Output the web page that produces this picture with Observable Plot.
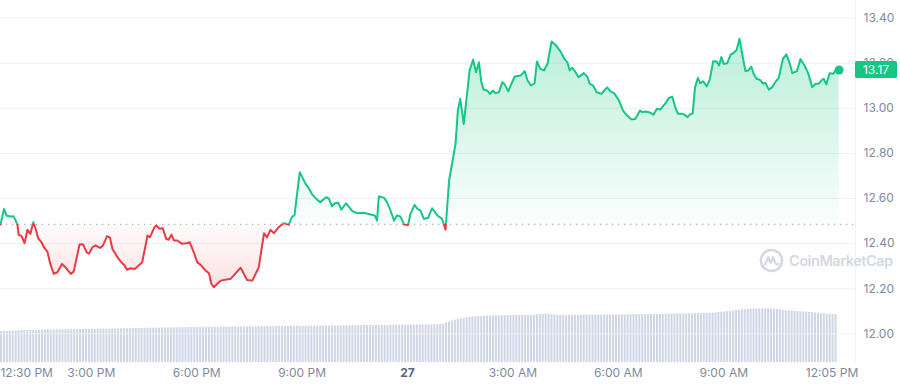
<!DOCTYPE html>
<html><head><meta charset="utf-8">
<script src="https://cdn.jsdelivr.net/npm/d3@7"></script>
<script src="https://cdn.jsdelivr.net/npm/@observablehq/plot@0.6"></script>
<style>
html,body{margin:0;padding:0;background:#fff;}
#wrap{position:relative;width:900px;height:388px;font-family:Inter,"Noto Sans",sans-serif;overflow:hidden;}
#wrap > svg{position:absolute;left:0;top:0;}
#wm{position:absolute;left:759px;top:248px;display:flex;align-items:center;gap:5px;color:#d3d8e1;font-family:Inter,sans-serif;font-weight:600;font-size:14.5px;letter-spacing:-0.45px;white-space:nowrap;}
</style></head><body><div id="wrap"></div>
<script>
// Time in minutes relative to midnight of the 27th; price in USD
const minutes = [
-695,-689,-685,-678,-673,-669,-666,-664,-659,-654,
-649,-644,-639,-635,-631,-625,-621,-615,-610,-604,
-598,-590,-584,-575,-570,-560,-554,-548,-544,-538,
-533,-525,-520,-513,-508,-504,-497,-490,-483,-479,
-473,-466,-459,-453,-444,-440,-432,-429,-423,-418,
-412,-408,-403,-399,-393,-385,-377,-372,-365,-359,
-352,-345,-339,-335,-331,-322,-319,-302,-285,-274,
-265,-254,-245,-240,-234,-228,-220,-212,-207,-203,
-197,-193,-184,-174,-169,-162,-154,-149,-139,-134,
-129,-124,-118,-113,-105,-94,-86,-75,-63,-56,
-52,-49,-40,-35,-29,-23,-18,-12,-6,1,
5,12,17,22,28,35,42,51,59,65,
71,78,82,86,90,96,102,106,112,117,
122,126,130,136,141,146,150,156,162,166,
172,183,193,200,205,211,217,221,227,233,
239,246,254,262,268,273,277,281,287,292,
301,307,311,317,323,331,336,341,347,353,
361,368,375,382,389,397,401,406,414,420,
426,432,441,446,452,458,462,469,473,478,
482,487,491,496,500,505,511,516,522,528,
532,536,540,546,552,557,562,567,572,577,
582,587,591,596,602,607,611,617,623,628,
634,641,647,653,657,665,671,678,684,691,
697,702,708,711,715,721,727,731,737
];
const prices = [
12.485,12.554,12.525,12.520,12.521,12.502,12.483,12.439,12.433,12.402,
12.461,12.443,12.495,12.466,12.426,12.406,12.384,12.365,12.310,12.266,
12.273,12.310,12.295,12.266,12.276,12.396,12.397,12.362,12.355,12.384,
12.392,12.381,12.392,12.433,12.426,12.377,12.347,12.321,12.303,12.284,
12.291,12.288,12.303,12.317,12.436,12.428,12.473,12.480,12.466,12.468,
12.421,12.417,12.439,12.414,12.414,12.399,12.402,12.406,12.362,12.317,
12.303,12.281,12.269,12.222,12.207,12.229,12.236,12.244,12.293,12.239,
12.236,12.295,12.446,12.428,12.461,12.446,12.473,12.490,12.488,12.483,
12.520,12.525,12.717,12.665,12.647,12.616,12.594,12.584,12.606,12.599,
12.565,12.579,12.581,12.551,12.579,12.544,12.535,12.537,12.529,12.525,
12.502,12.610,12.603,12.584,12.547,12.502,12.525,12.520,12.485,12.483,
12.532,12.572,12.554,12.547,12.510,12.514,12.557,12.525,12.510,12.462,
12.680,12.783,12.843,12.990,13.042,12.931,13.071,13.168,13.215,13.160,
13.204,13.116,13.082,13.079,13.064,13.079,13.067,13.071,13.116,13.106,
13.076,13.141,13.145,13.165,13.123,13.101,13.111,13.208,13.175,13.168,
13.197,13.296,13.278,13.249,13.219,13.204,13.168,13.180,13.160,13.138,
13.156,13.141,13.109,13.101,13.071,13.064,13.079,13.093,13.074,13.067,
13.035,12.990,12.968,12.952,12.953,12.990,12.983,12.986,12.981,12.972,
12.998,12.995,13.024,13.045,13.052,12.998,12.976,12.976,12.972,12.961,
12.972,12.978,13.094,13.135,13.111,13.120,13.097,13.126,13.209,13.208,
13.190,13.227,13.197,13.200,13.239,13.246,13.259,13.308,13.234,13.165,
13.168,13.185,13.153,13.131,13.126,13.109,13.113,13.083,13.094,13.116,
13.135,13.219,13.239,13.197,13.156,13.165,13.218,13.190,13.157,13.094,
13.109,13.109,13.126,13.131,13.106,13.156,13.153,13.168,13.170
];
const openPrice = 12.485;     // reference (dotted) line
const currentPrice = 13.17;

// Volume bars: one per 5 minutes starting at volStart (minutes rel. midnight), values in $M
const volStart = -695;
const volStep = 5;
const volumes = [
31.0,31.2,31.2,31.4,31.5,31.5,31.8,32.0,32.0,32.1,
32.2,32.2,32.3,32.3,32.4,32.4,32.5,32.5,32.6,32.6,
32.7,32.7,32.8,32.8,32.8,32.9,33.0,33.0,33.0,33.1,
33.1,33.2,33.2,33.3,33.3,33.4,33.4,33.5,33.5,33.6,
33.6,33.7,33.8,33.8,33.9,34.0,34.0,34.1,34.1,34.2,
34.2,34.3,34.3,34.4,34.4,34.5,34.5,34.6,34.6,34.7,
34.7,34.8,34.8,34.9,34.9,35.0,35.0,35.0,35.1,35.1,
35.2,35.2,35.2,35.3,35.3,35.3,35.4,35.4,35.4,35.5,
35.5,35.5,35.6,35.6,35.6,35.7,35.7,35.7,35.8,35.8,
35.8,35.9,35.9,35.9,36.0,36.0,36.0,36.0,36.1,36.1,
36.1,36.2,36.2,36.2,36.3,36.3,36.3,36.4,36.4,36.4,
36.5,36.5,36.5,36.6,36.6,36.6,36.7,36.7,36.7,36.8,
36.8,36.8,36.9,36.9,36.9,37.0,37.0,37.0,37.0,37.1,
37.1,37.1,37.2,37.2,37.2,37.3,37.3,37.3,37.4,37.4,
37.4,37.5,37.5,37.5,37.6,37.6,37.7,37.7,37.8,37.8,
38.0,38.3,39.5,40.5,41.5,42.3,43.0,43.6,44.2,44.7,
45.1,45.5,45.8,46.0,46.2,46.3,46.4,46.5,46.6,46.6,
46.7,46.7,46.8,46.8,46.9,46.9,47.0,47.0,47.0,47.1,
47.1,47.2,47.3,47.5,47.8,48.2,48.5,48.3,47.8,47.5,
47.3,47.2,47.2,47.1,47.1,47.1,47.2,47.2,47.2,47.3,
47.3,47.3,47.3,47.4,47.4,47.4,47.5,47.5,47.5,47.5,
47.6,47.6,47.6,47.7,47.7,47.7,47.8,47.8,47.8,47.9,
47.9,48.0,48.0,48.1,48.1,48.2,48.2,48.3,48.3,48.4,
48.4,48.5,48.5,48.6,48.6,48.7,48.8,48.9,49.0,49.0,
49.1,49.2,49.3,49.5,49.7,50.0,50.3,50.6,51.0,51.3,
51.6,51.9,52.2,52.5,52.8,53.1,53.3,53.5,53.6,53.7,
53.7,53.7,53.6,53.5,53.3,53.0,52.6,52.2,51.8,51.5,
51.3,51.1,50.9,50.7,50.5,50.3,50.1,49.9,49.6,49.3,
49.0,48.7,48.4,48.2,48.0,47.9
];

const yTicks = [12.00, 12.20, 12.40, 12.60, 12.80, 13.00, 13.20, 13.40];
const xTickMinutes = [-690, -540, -360, -180, 0, 180, 360, 540, 725];
const xTickLabels = ["12:30 PM", "3:00 PM", "6:00 PM", "9:00 PM", "27", "3:00 AM", "6:00 AM", "9:00 AM", "12:05 PM"];

// ---- layout ----
const W = 900, H = 388, ML = 0, MR = 45, MB = 26;
const xDomain = [-695, 765];
const GREEN = "#16c784", RED = "#ea3943", GREY = "#808a9d";

const priceData = minutes.map((m, i) => ({m, p: prices[i]}));
const volData = volumes.map((v, i) => ({m1: volStart + i * volStep, m2: volStart + (i + 1) * volStep, v}));
const lastPoint = priceData[priceData.length - 1];

const wrap = document.getElementById("wrap");

// Volume layer (own y scale)
const volChart = Plot.plot({
  width: W, height: H, marginLeft: ML, marginRight: MR, marginTop: 162, marginBottom: MB,
  style: {background: "transparent"},
  x: {domain: xDomain, axis: null},
  y: {domain: [0, 200], axis: null},
  marks: [
    Plot.rectY(volData, {x1: "m1", x2: "m2", y: "v", fill: "#cfd6e6", insetRight: 0.9})
  ]
});
wrap.appendChild(volChart);

// Price layer
const tickIdx = xTickLabels.map((_, i) => i);
const chart = Plot.plot({
  width: W, height: H, marginLeft: ML, marginRight: MR, marginTop: 0, marginBottom: MB,
  style: {background: "transparent", fontFamily: "Inter, sans-serif", fontSize: "12px"},
  x: {domain: xDomain, axis: null},
  y: {domain: [11.873, 13.478], axis: null},
  marks: [
    Plot.ruleY(yTicks, {stroke: "#eef1f5", strokeWidth: 1}),
    Plot.ruleX([xDomain[1]], {stroke: "#eef1f5", strokeWidth: 1}),
    Plot.areaY(priceData, {x: "m", y1: openPrice, y2: "p", fill: "url(#areaGrad)"}),
    Plot.ruleY([openPrice], {stroke: "#a7afc0", strokeWidth: 1.2, strokeDasharray: "1.2,4.8"}),
    Plot.line(priceData, {x: "m", y: "p", stroke: "url(#lineGrad)", strokeWidth: 2, strokeLinejoin: "round"}),
    Plot.dot([lastPoint], {x: "m", y: "p", r: 4.5, fill: GREEN}),
    Plot.text(yTicks, {y: d => d, frameAnchor: "right", dx: 8, textAnchor: "start", text: d => d.toFixed(2), fill: GREY, fontSize: 12}),
    Plot.text(tickIdx.filter(i => i === 0), {x: i => xTickMinutes[i], frameAnchor: "bottom", dy: 14, textAnchor: "start", text: i => xTickLabels[i], fill: GREY, fontSize: 12, dx: -3}),
    Plot.text(tickIdx.filter(i => i > 0 && xTickLabels[i] !== "27"), {x: i => xTickMinutes[i], frameAnchor: "bottom", dy: 14, text: i => xTickLabels[i], fill: GREY, fontSize: 12}),
    Plot.text(tickIdx.filter(i => xTickLabels[i] === "27"), {x: i => xTickMinutes[i], frameAnchor: "bottom", dy: 14, text: i => xTickLabels[i], fill: "#58667e", fontWeight: "bold", fontSize: 12})
  ]
});
wrap.appendChild(chart);

// Gradients and current-price tag positioned with the plot's own y scale
const ys = chart.scale("y");
const yb = ys.apply(openPrice);
const svg = d3.select(chart);
const defs = svg.insert("defs", ":first-child");
const lg = defs.append("linearGradient").attr("id", "lineGrad").attr("gradientUnits", "userSpaceOnUse")
  .attr("x1", 0).attr("x2", 0).attr("y1", 0).attr("y2", H);
lg.append("stop").attr("offset", yb / H).attr("stop-color", GREEN);
lg.append("stop").attr("offset", yb / H).attr("stop-color", RED);
const ag = defs.append("linearGradient").attr("id", "areaGrad").attr("gradientUnits", "userSpaceOnUse")
  .attr("x1", 0).attr("x2", 0).attr("y1", 0).attr("y2", H);
const yTop = ys.apply(13.32), yBot = ys.apply(12.18);
ag.append("stop").attr("offset", yTop / H).attr("stop-color", GREEN).attr("stop-opacity", 0.3);
ag.append("stop").attr("offset", yb / H).attr("stop-color", GREEN).attr("stop-opacity", 0.02);
ag.append("stop").attr("offset", yb / H).attr("stop-color", RED).attr("stop-opacity", 0.02);
ag.append("stop").attr("offset", yBot / H).attr("stop-color", RED).attr("stop-opacity", 0.16);

const yc = ys.apply(currentPrice);
const tag = svg.append("g");
tag.append("rect").attr("x", W - MR).attr("y", yc - 8.5).attr("width", 42).attr("height", 17).attr("rx", 1.5).attr("fill", GREEN);
tag.append("text").attr("x", W - MR + 21).attr("y", yc).attr("dy", "0.35em").attr("text-anchor", "middle")
  .attr("fill", "#fff").attr("font-size", 12).attr("font-family", "Inter, sans-serif").text(currentPrice.toFixed(2));

// Watermark
const wm = document.createElement("div");
wm.id = "wm";
wm.innerHTML = '<svg width="25" height="25" viewBox="0 0 26 26" style="position:static"><circle cx="13" cy="13" r="11" fill="none" stroke="#d3d8e1" stroke-width="2.6"/><path d="M6.5 17 L9.5 9.5 L12 15.5 L14.5 9.5 L17 15.5 Q18 17.5 20 16.5" fill="none" stroke="#d3d8e1" stroke-width="2.4" stroke-linejoin="round" stroke-linecap="round"/></svg><span>CoinMarketCap</span>';
wrap.appendChild(wm);
</script>
</body></html>
